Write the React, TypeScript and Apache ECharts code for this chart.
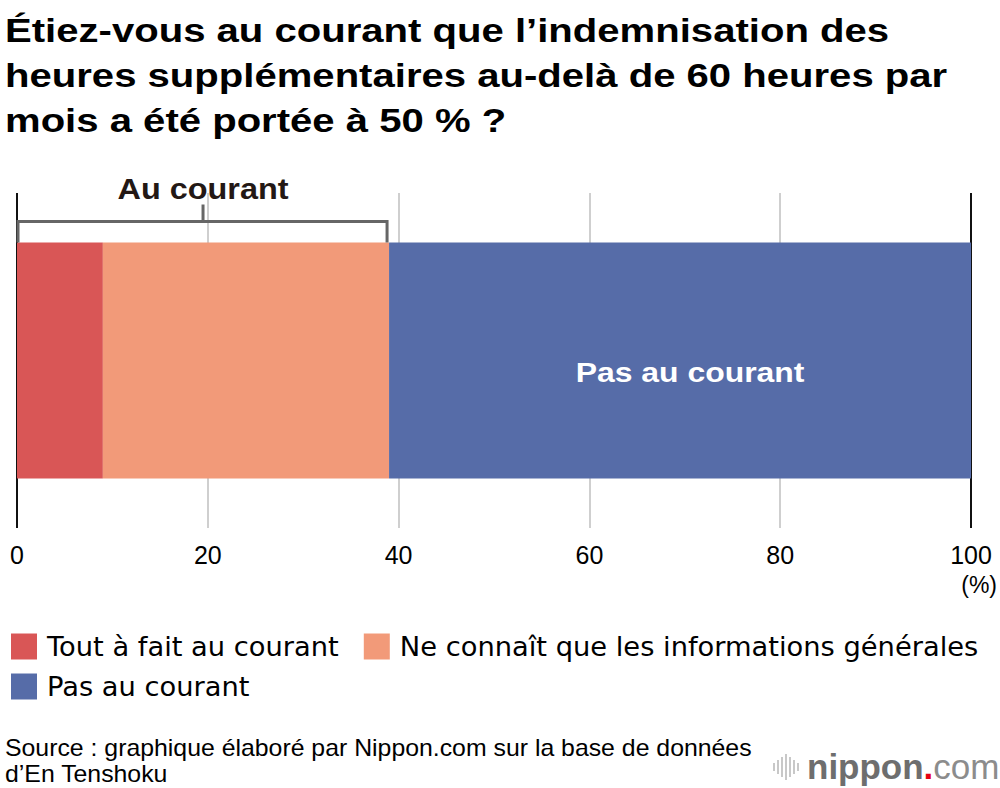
import React, { useEffect, useRef } from "react";
import * as echarts from "echarts";

const categories = ["Réponses"];
const seriesNames = [
  "Tout à fait au courant",
  "Ne connaît que les informations générales",
  "Pas au courant",
];
const seriesValues = [9, 30, 61];
const seriesColors = ["#d95656", "#f29a79", "#566ca8"];
const titleText =
  "Étiez-vous au courant que l’indemnisation des\nheures supplémentaires au-delà de 60 heures par\nmois a été portée à 50 % ?";
const bracketLabel = "Au courant";
const unitLabel = "(%)";
const sourceText =
  "Source : graphique élaboré par Nippon.com sur la base de données\nd’En Tenshoku";

const FONT = "'Liberation Sans', Arial, Helvetica, sans-serif";
const LEGEND_FONT = "'DejaVu Sans', 'Liberation Sans', sans-serif";

export default function App() {
  const ref = useRef<HTMLDivElement>(null);
  useEffect(() => {
    if (!ref.current) return;
    const chart = echarts.init(ref.current, null, { renderer: "svg" });
    const legendCommon = {
      left: 11,
      itemWidth: 26,
      itemHeight: 26,
      itemGap: 25,
      icon: "rect",
      padding: 0,
      selectedMode: false,
      textStyle: {
        fontFamily: LEGEND_FONT,
        fontSize: 27.3,
        color: "#000",
        padding: [0, 0, 0, 5],
      },
    };
    const option: any = {
      animation: false,
      backgroundColor: "#fff",
      textStyle: { fontFamily: FONT },
      legend: [
        { ...legendCommon, data: seriesNames.slice(0, 2), top: 633 },
        { ...legendCommon, data: seriesNames.slice(2), top: 673 },
      ],
      grid: { left: 17, right: 29, top: 193, height: 335, containLabel: false },
      xAxis: {
        type: "value",
        min: 0,
        max: 100,
        interval: 20,
        axisLine: { show: false },
        axisTick: { show: false },
        axisLabel: {
          fontFamily: FONT,
          fontSize: 25,
          color: "#000",
          margin: 14,
        },
        splitLine: {
          show: true,
          showMinLine: true,
          showMaxLine: true,
          lineStyle: {
            color: ["#111", "#cfcfcf", "#cfcfcf", "#cfcfcf", "#cfcfcf", "#111"],
            width: 2,
          },
        },
      },
      yAxis: {
        type: "category",
        data: categories,
        axisLine: { show: false },
        axisTick: { show: false },
        axisLabel: { show: false },
      },
      series: seriesNames.map((name, i) => ({
        name,
        type: "bar",
        stack: "total",
        barWidth: 236,
        data: [seriesValues[i]],
        itemStyle: { color: seriesColors[i] },
        label: { show: false },
      })),
    };
    chart.setOption(option);

    const cum2 = seriesValues[0] + seriesValues[1];
    const total = cum2 + seriesValues[2];
    const x0 = chart.convertToPixel({ xAxisIndex: 0 }, 0) as number;
    const x1 = (chart.convertToPixel({ xAxisIndex: 0 }, cum2) as number) - 2;
    const xBlue = chart.convertToPixel({ xAxisIndex: 0 }, (cum2 + total) / 2) as number;
    const yc = chart.convertToPixel({ yAxisIndex: 0 }, 0) as number;
    const barTop = yc - 118;
    const bY = barTop - 21;
    const mid = (x0 + x1) / 2 + 1;
    const lineStyle = { stroke: "#666", lineWidth: 3, fill: "none" };

    const waveBars = [8, 14, 20, 26, 20, 14, 8];
    const waveGraphics = waveBars.map((h, i) => ({
      type: "rect",
      z: 20,
      shape: { x: 773 + i * 4, y: 767 - h / 2, width: 2, height: h },
      style: { fill: "#c8c8c8" },
    }));

    chart.setOption({
      graphic: [
        {
          type: "text",
          z: 20,
          x: 5,
          y: 8,
          scaleX: 1.215,
          style: {
            text: titleText,
            fill: "#000",
            fontFamily: FONT,
            fontSize: 33,
            fontWeight: "bold",
            lineHeight: 45,
            textAlign: "left",
            textVerticalAlign: "top",
          },
        },
        {
          type: "polyline",
          z: 20,
          shape: {
            points: [
              [x0 + 1, barTop],
              [x0 + 1, bY],
              [x1, bY],
              [x1, barTop],
            ],
          },
          style: lineStyle,
        },
        {
          type: "line",
          z: 20,
          shape: { x1: mid, y1: bY, x2: mid, y2: bY - 17 },
          style: lineStyle,
        },
        {
          type: "text",
          z: 20,
          x: mid,
          y: bY - 33,
          scaleX: 1.08,
          style: {
            text: bracketLabel,
            fill: "#231815",
            fontFamily: FONT,
            fontSize: 30,
            fontWeight: "bold",
            textAlign: "center",
            textVerticalAlign: "middle",
          },
        },
        {
          type: "text",
          z: 20,
          x: xBlue + 10,
          y: yc + 12,
          scaleX: 1.14,
          style: {
            text: seriesNames[2],
            fill: "#fff",
            fontFamily: FONT,
            fontSize: 28,
            fontWeight: "bold",
            textAlign: "center",
            textVerticalAlign: "middle",
          },
        },
        {
          type: "text",
          z: 20,
          x: 997,
          y: 585,
          style: {
            text: unitLabel,
            fill: "#000",
            fontFamily: FONT,
            fontSize: 23,
            textAlign: "right",
            textVerticalAlign: "middle",
          },
        },
        {
          type: "text",
          z: 20,
          x: 5,
          y: 735,
          scaleX: 1.08,
          style: {
            text: sourceText,
            fill: "#000",
            fontFamily: FONT,
            fontSize: 23,
            lineHeight: 26,
            textAlign: "left",
            textVerticalAlign: "top",
          },
        },
        ...waveGraphics,
        {
          type: "text",
          z: 20,
          x: 807,
          y: 766,
          style: {
            text: "{a|nippon}{b|.}{c|com}",
            textVerticalAlign: "middle",
            rich: {
              a: { fontFamily: FONT, fontSize: 35, fontWeight: "bold", fill: "#6e6e6e" },
              b: { fontFamily: FONT, fontSize: 35, fontWeight: "bold", fill: "#e60012" },
              c: { fontFamily: FONT, fontSize: 35, fill: "#8c8c8c" },
            },
          },
        },
      ],
    });

    return () => chart.dispose();
  }, []);
  return <div ref={ref} style={{ width: 1000, height: 788, position: "absolute", left: 0, top: 0 }} />;
}
